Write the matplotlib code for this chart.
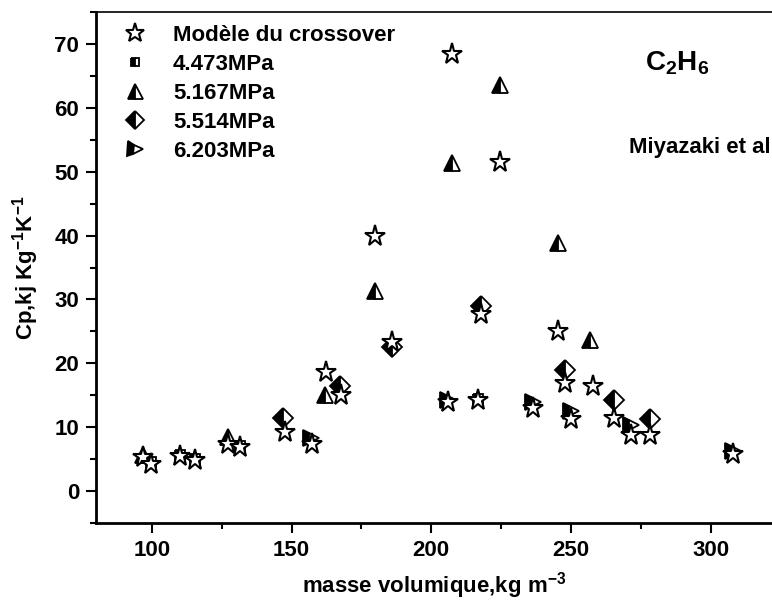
import matplotlib.pyplot as plt
from matplotlib.ticker import MultipleLocator

plt.rcParams['font.family'] = ['Liberation Sans', 'DejaVu Sans']
plt.rcParams['font.weight'] = 'bold'
plt.rcParams['mathtext.fontset'] = 'custom'
plt.rcParams['mathtext.rm'] = 'Liberation Sans:bold'
plt.rcParams['mathtext.bf'] = 'Liberation Sans:bold'
plt.rcParams['mathtext.it'] = 'Liberation Sans:bold'

# Modèle du crossover
model_x = [97.0, 99.8, 110.0, 115.5, 127.4, 131.6, 147.7, 157.5, 162.3, 167.7, 180.0, 186.0, 206.0,
           207.5, 216.8, 218.0, 224.5, 236.4, 245.5, 247.8, 250.2, 257.9, 265.6, 271.6, 278.2, 307.9]
model_y = [5.3, 4.3, 5.5, 4.9, 7.3, 6.9, 9.2, 7.3, 18.6, 15.0, 40.0, 23.3, 14.0,
           68.5, 14.3, 27.7, 51.5, 13.0, 25.0, 16.9, 11.3, 16.5, 11.5, 8.8, 8.8, 5.8]

# Miyazaki et al, experimental
p4473_x = [99.8, 110.0, 115.5, 131.6, 216.8]
p4473_y = [4.6, 5.6, 5.0, 7.0, 14.4]

p5167_x = [97.0, 127.4, 162.0, 180.0, 207.5, 224.5, 245.5, 257.0]
p5167_y = [5.6, 8.4, 15.1, 31.3, 51.3, 63.5, 38.9, 23.7]

p5514_x = [147.1, 167.4, 186.0, 218.0, 247.8, 265.6, 278.2]
p5514_y = [11.4, 16.4, 22.6, 29.0, 19.0, 14.3, 11.3]

p6203_x = [157.0, 206.0, 236.4, 250.2, 271.6, 307.9]
p6203_y = [8.3, 14.2, 14.0, 12.5, 10.4, 6.3]

W, H = 772, 612
fig = plt.figure(figsize=(W / 100, H / 100), dpi=100)
ax = fig.add_axes([96 / W, 89 / H, 676 / W, 511 / H])

half = dict(linestyle='none', color='black', markerfacecolor='black',
            markerfacecoloralt='white', fillstyle='left', markeredgecolor='black',
            markeredgewidth=1.3)

ax.plot(model_x, model_y, linestyle='none', marker='*', markersize=15.5,
        markerfacecolor='white', markeredgecolor='black', markeredgewidth=1.5,
        label='Modèle du crossover', zorder=5)
ax.plot(p4473_x, p4473_y, marker='s', markersize=7, label='4.473MPa', zorder=3, **half)
ax.plot(p5167_x, p5167_y, marker='^', markersize=12, label='5.167MPa', zorder=3, **half)
ax.plot(p5514_x, p5514_y, marker='D', markersize=10, label='5.514MPa', zorder=3, **half)
ax.plot(p6203_x, p6203_y, marker='>', markersize=12, label='6.203MPa', zorder=3, **half)

ax.set_xlim(80, 322)
ax.set_ylim(-5, 75)
ax.xaxis.set_major_locator(MultipleLocator(50))
ax.xaxis.set_minor_locator(MultipleLocator(25))
ax.yaxis.set_major_locator(MultipleLocator(10))
ax.yaxis.set_minor_locator(MultipleLocator(5))
ax.tick_params(which='major', direction='out', length=7, width=1.5, labelsize=16, pad=5)
ax.tick_params(which='minor', direction='out', length=4, width=1.5)
for s in ['left', 'bottom']:
    ax.spines[s].set_linewidth(2)
ax.spines['top'].set_linewidth(1.2)
ax.spines['right'].set_visible(False)

ax.set_xlabel('masse volumique,kg m$^{-3}$', fontsize=16, fontweight='bold', labelpad=7)
ax.set_ylabel('Cp,kj Kg$^{-1}$K$^{-1}$', fontsize=16, fontweight='bold', labelpad=10)

fig.text(677 / W, 1 - 63 / H, r'C$_2$H$_6$', fontsize=20, fontweight='bold',
         ha='center', va='center')
fig.text(700 / W, 1 - 148 / H, 'Miyazaki et al', fontsize=16, fontweight='bold',
         ha='center', va='center')

ax.legend(loc='upper left', bbox_to_anchor=(113 / W, 1 - 16 / H),
          bbox_transform=fig.transFigure, frameon=False, fontsize=16,
          handlelength=1.2, handletextpad=1.1, labelspacing=0.36,
          borderaxespad=0, markerscale=0.9)

fig.savefig('out.png', dpi=100)
